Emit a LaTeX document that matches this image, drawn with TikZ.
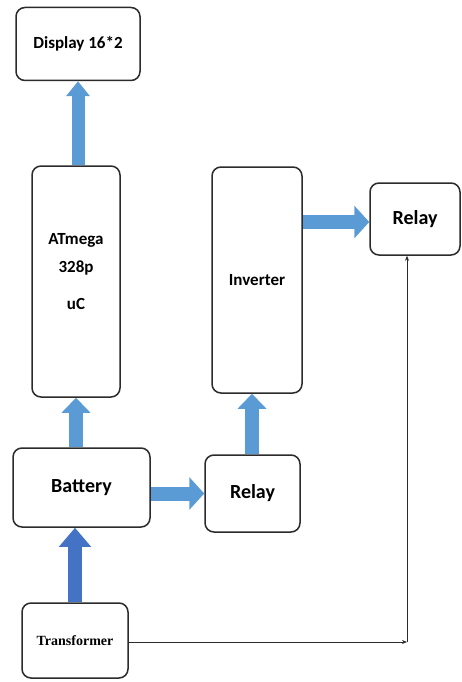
\documentclass[tikz,border=0pt]{standalone}
\usepackage{fontspec}
\setmainfont{Carlito}
\newfontfamily\serifb{Liberation Serif}
\usetikzlibrary{arrows.meta}
\definecolor{arrblue}{HTML}{5B9BD5}
\definecolor{arrdark}{HTML}{4472C4}
\definecolor{boxline}{HTML}{2B2B2B}
\begin{document}
\begin{tikzpicture}[x=1pt,y=-1pt,
  blk/.style={draw=boxline,line width=1.5pt,rounded corners=9pt,fill=white,
    inner sep=0pt,font=\bfseries},
  big/.style={draw=arrblue,line width=14pt,
    -{Triangle[width=28pt 0,length=15pt 0]}},
  bigdark/.style={big,draw=arrdark,-{Triangle[width=31pt 0,length=19pt 0]}},
  smallhead/.style={big,line width=13pt,-{Triangle[width=23pt 0,length=15pt 0]}},
  thinarr/.style={draw=boxline,line width=0.9pt,-{Stealth[length=5pt,width=4pt]}}]
\useasboundingbox (0,0) rectangle (462,682);
\node[blk,minimum width=124pt,minimum height=73pt,font=\bfseries\fontsize{17}{20}\selectfont] (disp) at (78,44) {Display 16*2};
\node[blk,minimum width=88pt,minimum height=231pt,align=center,font=\bfseries\fontsize{17}{20}\selectfont] (atm) at (76,281.5) {ATmega\\[8pt]328p\\[17pt]uC\\[0pt]\rule{0pt}{4pt}};
\node[blk,minimum width=137pt,minimum height=79pt,font=\bfseries\fontsize{20}{24}\selectfont] (bat) at (81.5,487.5) {Battery};
\node[blk,minimum width=95pt,minimum height=77pt,font=\bfseries\fontsize{20}{24}\selectfont] (rel1) at (252.5,493.5) {Relay};
\node[blk,minimum width=106pt,minimum height=75pt,font=\serifb\bfseries\fontsize{14}{17}\selectfont] (tr) at (75,640.5) {Transformer};
\node[blk,minimum width=90pt,minimum height=226pt,font=\bfseries\fontsize{17}{20}\selectfont] (inv) at (257,280) {Inverter};
\node[blk,minimum width=90pt,minimum height=72pt,font=\bfseries\fontsize{20}{24}\selectfont] (rel2) at (415,219) {Relay};
\coordinate (corner) at (407,642);
\draw[smallhead] (atm.north -| disp.south) -- (disp.south);
\draw[big] (bat.north -| atm.south) -- (atm.south);
\draw[big,-{Triangle[width=32pt 0,length=15pt 0]}] (bat.east |- rel1.west) -- (rel1.west);
\draw[bigdark] (tr.north) -- (tr.north |- bat.south);
\draw[big] (rel1.north -| 252,0) -- (inv.south -| 252,0);
\draw[big,-{Triangle[width=32pt 0,length=15pt 0]}] (inv.east |- 0,222) -- (rel2.west |- 0,222);
\draw[thinarr] (tr.east |- corner) -- (corner);
\draw[thinarr] (corner) -- (corner |- rel2.south);
\end{tikzpicture}
\end{document}
